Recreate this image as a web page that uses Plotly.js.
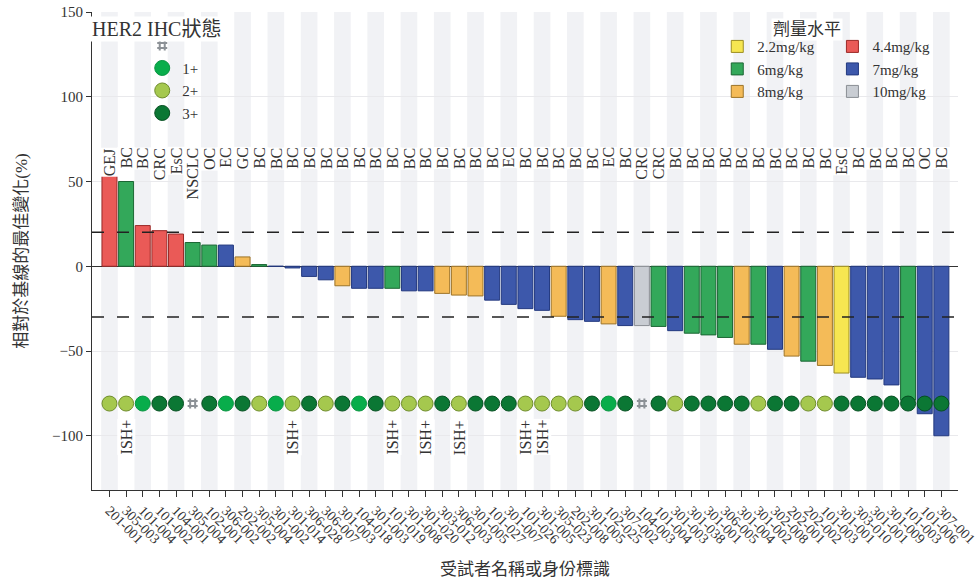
<!DOCTYPE html>
<html>
<head>
<meta charset="utf-8">
<script src="https://cdn.plot.ly/plotly-3.0.1.min.js"></script>
<style>
  html, body { margin: 0; padding: 0; background: #ffffff; }
  #chart { width: 977px; height: 585px; }
</style>
</head>
<body>
<div id="chart"></div>
<script>
// Subject identifiers, in waterfall order (best response first to worst)
const subjects = [
  '201-001','305-003','101-004','101-002','104-001','305-004','102-001','306-002','202-002','305-004',
  '301-002','301-014','306-028','306-007','301-003','104-018','301-003','101-019','301-008','301-020',
  '303-012','306-003','301-005','101-027','301-007','101-026','301-005','305-023','202-008','301-005',
  '102-025','307-002','104-003','101-004','301-003','301-038','301-001','306-005','301-004','301-002',
  '302-008','202-001','202-002','101-003','301-001','303-010','301-001','301-009','101-003','101-006',
  '307-001'
];

// Tumour type of each subject
const tumorTypes = [
  'GEJ','BC','BC','CRC','EsC','NSCLC','OC','EC','GC','BC',
  'BC','BC','BC','BC','BC','BC','BC','BC','BC','BC',
  'BC','BC','BC','BC','EC','BC','BC','BC','BC','BC',
  'EC','BC','CRC','CRC','BC','BC','BC','BC','BC','BC',
  'BC','BC','BC','BC','EsC','BC','BC','BC','BC','OC',
  'BC'
];

// Best change from baseline (%)
const bestChange = [
  56, 50, 24, 21, 19, 14, 12.5, 12.5, 5.5, 1,
  0, -1, -6, -8, -11.5, -13, -13, -13, -14.5, -14.5,
  -16, -17, -17.5, -20, -22.5, -25, -26, -29.5, -31.5, -32.5,
  -34, -35, -35, -35.5, -38, -39.5, -40.5, -42, -46, -46,
  -49, -53, -56, -58.5, -63, -65.5, -66.5, -70, -79, -87,
  -100
];

// Dose level of each subject
const doseLevel = [
  '4.4mg/kg','6mg/kg','4.4mg/kg','4.4mg/kg','4.4mg/kg','6mg/kg','6mg/kg','7mg/kg','8mg/kg','6mg/kg',
  '7mg/kg','7mg/kg','7mg/kg','7mg/kg','8mg/kg','7mg/kg','7mg/kg','6mg/kg','7mg/kg','7mg/kg',
  '8mg/kg','8mg/kg','8mg/kg','7mg/kg','7mg/kg','7mg/kg','7mg/kg','8mg/kg','7mg/kg','7mg/kg',
  '8mg/kg','7mg/kg','10mg/kg','6mg/kg','7mg/kg','6mg/kg','6mg/kg','6mg/kg','8mg/kg','6mg/kg',
  '7mg/kg','8mg/kg','6mg/kg','8mg/kg','2.2mg/kg','7mg/kg','7mg/kg','7mg/kg','6mg/kg','7mg/kg',
  '7mg/kg'
];

// HER2 IHC status of each subject ('#' = not available)
const her2Status = [
  '2+','2+','1+','3+','3+','#','3+','1+','3+','2+',
  '1+','2+','3+','2+','3+','1+','3+','2+','2+','2+',
  '3+','2+','3+','3+','3+','2+','2+','2+','2+','3+',
  '1+','3+','#','3+','2+','3+','3+','3+','3+','2+',
  '3+','3+','2+','2+','3+','3+','3+','3+','3+','3+',
  '3+'
];

// Subjects that are ISH positive
const ishPositive = [1, 11, 17, 19, 21, 25, 26];

// Dose groups shown in the two legend columns
const doseColumnA = ['2.2mg/kg', '6mg/kg', '8mg/kg'];
const doseColumnB = ['4.4mg/kg', '7mg/kg', '10mg/kg'];

// Response threshold lines (%)
const progressionLine = 20;
const responseLine = -30;

// Row on which the HER2 status markers sit
const statusRowY = -81;

const doseStyle = {
  '2.2mg/kg': { fill: '#f6e651', edge: '#9c8d22' },
  '4.4mg/kg': { fill: '#ea5a57', edge: '#9b2a28' },
  '6mg/kg':   { fill: '#33a85a', edge: '#1b6634' },
  '7mg/kg':   { fill: '#3d58ab', edge: '#23397f' },
  '8mg/kg':   { fill: '#f4bb58', edge: '#9d7428' },
  '10mg/kg':  { fill: '#c9cdd3', edge: '#8a8e94' }
};

const her2Style = {
  '#':  { name: '',   symbol: 'hash',   size: 10, fill: '#8c9196', edge: '#8c9196', lw: 2 },
  '1+': { name: '1+', symbol: 'circle', size: 15, fill: '#08ad4b', edge: '#079440', lw: 1 },
  '2+': { name: '2+', symbol: 'circle', size: 15, fill: '#a5c84e', edge: '#6f8c2c', lw: 1 },
  '3+': { name: '3+', symbol: 'circle', size: 15, fill: '#0b7734', edge: '#064f21', lw: 1 }
};

const serif = 'Liberation Serif, "Noto Sans CJK TC", serif';
const textColor = '#333333';
const idx = subjects.map((_, i) => i);

const traces = [];

// Waterfall bars, one trace per dose group
function doseTrace(dose, legendId) {
  const pick = idx.filter(i => doseLevel[i] === dose);
  const st = doseStyle[dose];
  return {
    type: 'bar',
    name: dose,
    legend: legendId,
    x: pick,
    y: pick.map(i => bestChange[i]),
    width: 0.9,
    marker: { color: st.fill, line: { color: st.edge, width: 1 } },
    hovertemplate: '%{y}%<extra>' + dose + '</extra>'
  };
}
doseColumnA.forEach(d => traces.push(doseTrace(d, 'legend2')));
doseColumnB.forEach(d => traces.push(doseTrace(d, 'legend3')));

// HER2 status markers
['#', '1+', '2+', '3+'].forEach(s => {
  const pick = idx.filter(i => her2Status[i] === s);
  const st = her2Style[s];
  traces.push({
    type: 'scatter',
    mode: 'markers',
    name: st.name,
    legend: 'legend',
    x: pick,
    y: pick.map(() => statusRowY),
    marker: {
      symbol: st.symbol, size: st.size, color: st.fill,
      line: { color: st.edge, width: st.lw }
    },
    hoverinfo: 'skip'
  });
});

// Alternating column bands
const shapes = idx.filter(i => i % 2 === 0).map(i => ({
  type: 'rect', xref: 'x', yref: 'paper',
  x0: i - 0.5, x1: i + 0.5, y0: 0, y1: 1,
  fillcolor: '#f1f2f5', line: { width: 0 }, layer: 'below'
}));
[progressionLine, responseLine].forEach(v => shapes.push({
  type: 'line', xref: 'paper', yref: 'y',
  x0: 0, x1: 1, y0: v, y1: v,
  line: { color: '#222222', width: 1.5, dash: '12px,13px' }
}));

// Tumour type labels above each column
const annotations = idx.map(i => ({
  x: i, y: 70.5, xref: 'x', yref: 'y',
  text: tumorTypes[i], showarrow: false, textangle: -90,
  xanchor: 'center', yanchor: 'top',
  bgcolor: '#ffffff', borderpad: 0,
  font: { family: serif, size: 16, color: textColor }
}));

// ISH+ flags beneath the status row
ishPositive.forEach(i => annotations.push({
  x: i, y: -90, xref: 'x', yref: 'y',
  text: 'ISH+', showarrow: false, textangle: -90,
  xanchor: 'center', yanchor: 'top',
  bgcolor: '#ffffff', borderpad: 0,
  font: { family: serif, size: 16, color: textColor }
}));

// Legend headings
annotations.push({
  xref: 'paper', yref: 'paper', x: -0.002, y: 0.992,
  xanchor: 'left', yanchor: 'top',
  text: 'HER2 IHC狀態', showarrow: false,
  bgcolor: '#ffffff', borderpad: 1,
  font: { family: serif, size: 20, color: textColor }
});
annotations.push({
  xref: 'paper', yref: 'paper', x: 0.826, y: 0.987,
  xanchor: 'center', yanchor: 'top',
  text: '劑量水平', showarrow: false,
  bgcolor: '#ffffff', borderpad: 1,
  font: { family: serif, size: 17, color: textColor }
});

const legendCommon = {
  orientation: 'v', traceorder: 'normal',
  bgcolor: 'rgba(255,255,255,0)', borderwidth: 0,
  xanchor: 'left', yanchor: 'top',
  font: { family: serif, size: 15, color: textColor }
};

const layout = {
  width: 977, height: 585,
  margin: { l: 92, r: 19, t: 12, b: 95 },
  paper_bgcolor: '#ffffff', plot_bgcolor: '#ffffff',
  font: { family: serif, color: textColor },
  barmode: 'overlay',
  showlegend: true,
  legend: Object.assign({}, legendCommon, { x: 0.058, y: 0.964 }),
  legend2: Object.assign({}, legendCommon, { x: 0.722, y: 0.962 }),
  legend3: Object.assign({}, legendCommon, { x: 0.855, y: 0.962 }),
  xaxis: {
    range: [-1.05, 51],
    tickmode: 'array', tickvals: idx, ticktext: subjects,
    tickangle: 45, ticks: 'outside', ticklen: 6, tickcolor: '#333333',
    ticklabeloverflow: 'allow',
    showline: true, linecolor: '#333333', linewidth: 1,
    showgrid: false, zeroline: false,
    tickfont: { family: serif, size: 14, color: textColor },
    title: { text: '受試者名稱或身份標識', font: { family: serif, size: 17, color: textColor }, standoff: 17 }
  },
  yaxis: {
    range: [-132, 150],
    tickmode: 'array', tickvals: [-100, -50, 0, 50, 100, 150],
    ticks: 'outside', ticklen: 5, tickcolor: '#333333',
    showline: true, linecolor: '#333333', linewidth: 1,
    showgrid: true, gridcolor: '#e9e9ec', gridwidth: 1,
    zeroline: true, zerolinecolor: '#333333', zerolinewidth: 1.5,
    tickfont: { family: serif, size: 15, color: textColor },
    title: { text: '相對於基線的最佳變化(%)', font: { family: serif, size: 17, color: textColor }, standoff: 20 }
  },
  shapes: shapes,
  annotations: annotations
};

Plotly.newPlot('chart', traces, layout, { displayModeBar: false, staticPlot: true });
</script>
</body>
</html>
